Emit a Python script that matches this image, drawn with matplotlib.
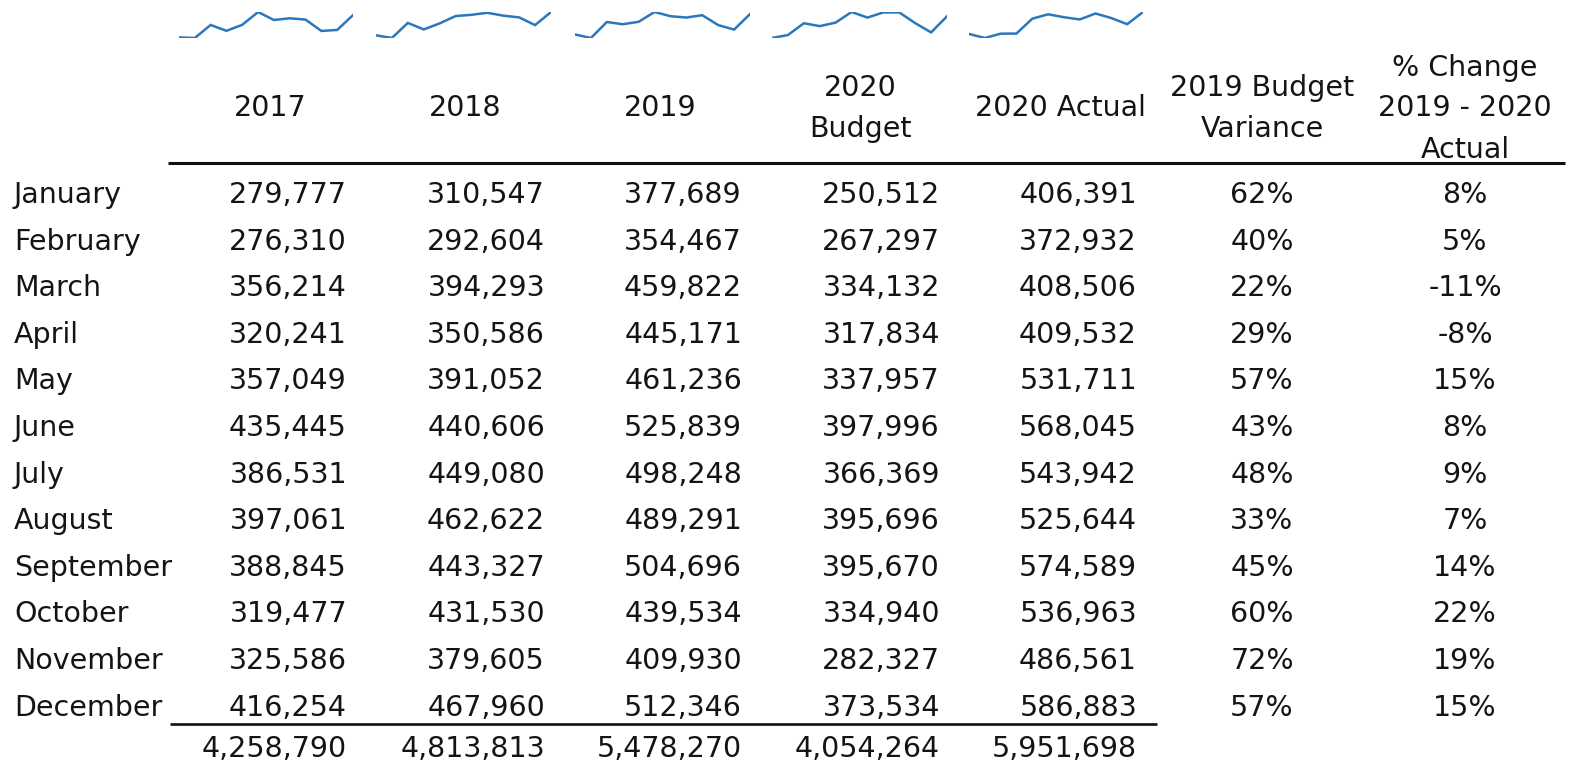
import matplotlib
matplotlib.use("Agg")
import matplotlib.pyplot as plt

months = ["January", "February", "March", "April", "May", "June", "July",
          "August", "September", "October", "November", "December"]
y2017 = [279777, 276310, 356214, 320241, 357049, 435445, 386531, 397061, 388845, 319477, 325586, 416254]
y2018 = [310547, 292604, 394293, 350586, 391052, 440606, 449080, 462622, 443327, 431530, 379605, 467960]
y2019 = [377689, 354467, 459822, 445171, 461236, 525839, 498248, 489291, 504696, 439534, 409930, 512346]
budget2020 = [250512, 267297, 334132, 317834, 337957, 397996, 366369, 395696, 395670, 334940, 282327, 373534]
actual2020 = [406391, 372932, 408506, 409532, 531711, 568045, 543942, 525644, 574589, 536963, 486561, 586883]
budget_var = ["62%", "40%", "22%", "29%", "57%", "43%", "48%", "33%", "45%", "60%", "72%", "57%"]
pct_change = ["8%", "5%", "-11%", "-8%", "15%", "8%", "9%", "7%", "14%", "22%", "19%", "15%"]
totals = ["4,258,790", "4,813,813", "5,478,270", "4,054,264", "5,951,698"]
headers = [["2017"], ["2018"], ["2019"], ["2020", "Budget"], ["2020 Actual"],
           ["2019 Budget", "Variance"], ["% Change", "2019 - 2020", "Actual"]]

W, H = 1570, 765
fig = plt.figure(figsize=(W / 100, H / 100), dpi=100)
ax = fig.add_axes([0, 0, 1, 1])
ax.set_xlim(0, W)
ax.set_ylim(H, 0)
ax.axis("off")

FS = 20.5
TXT = "#141414"
font = dict(fontsize=FS, color=TXT, family="DejaVu Sans")

num_series = [y2017, y2018, y2019, budget2020, actual2020]
num_right = [347, 545, 742, 940, 1137]
pct_center = [1262, 1465]
hdr_center = [270, 465, 660, 860, 1060, 1262, 1465]

# sparklines
spark_x = [(179, 353), (376, 551), (575, 750), (772, 947), (969, 1143)]
spark_y = (12, 38)
for (x0, x1), s in zip(spark_x, num_series):
    sax = fig.add_axes([x0 / W, 1 - spark_y[1] / H, (x1 - x0) / W, (spark_y[1] - spark_y[0]) / H])
    sax.plot(range(len(s)), s, color="#2b77bb", lw=1.8, solid_joinstyle="miter")
    sax.set_xlim(0, len(s) - 1)
    sax.set_ylim(min(s), max(s))
    sax.axis("off")
    sax.patch.set_alpha(0)

# headers
for cx, lines in zip(hdr_center, headers):
    n = len(lines)
    if n == 1:
        bases = [116]
    elif n == 2:
        bases = [96, 137]
    else:
        bases = [76, 116, 158]
    for b, t in zip(bases, lines):
        ax.text(cx, b, t, ha="center", va="baseline", **font)

ax.plot([168, 1565], [163, 163], color="#111111", lw=2.2, solid_capstyle="butt")

# rows
row0, dy = 203, 46.6
for i, m in enumerate(months):
    yb = row0 + i * dy
    ax.text(14, yb, m, ha="left", va="baseline", **font)
    for xr, s in zip(num_right, num_series):
        ax.text(xr, yb, f"{s[i]:,}", ha="right", va="baseline", **font)
    ax.text(pct_center[0], yb, budget_var[i], ha="center", va="baseline", **font)
    ax.text(pct_center[1], yb, pct_change[i], ha="center", va="baseline", **font)

ax.plot([170, 1157], [724, 724], color="#111111", lw=1.9, solid_capstyle="butt")
for xr, t in zip(num_right, totals):
    ax.text(xr, 757, t, ha="right", va="baseline", **font)

fig.savefig("out.png", dpi=100, facecolor="white")
